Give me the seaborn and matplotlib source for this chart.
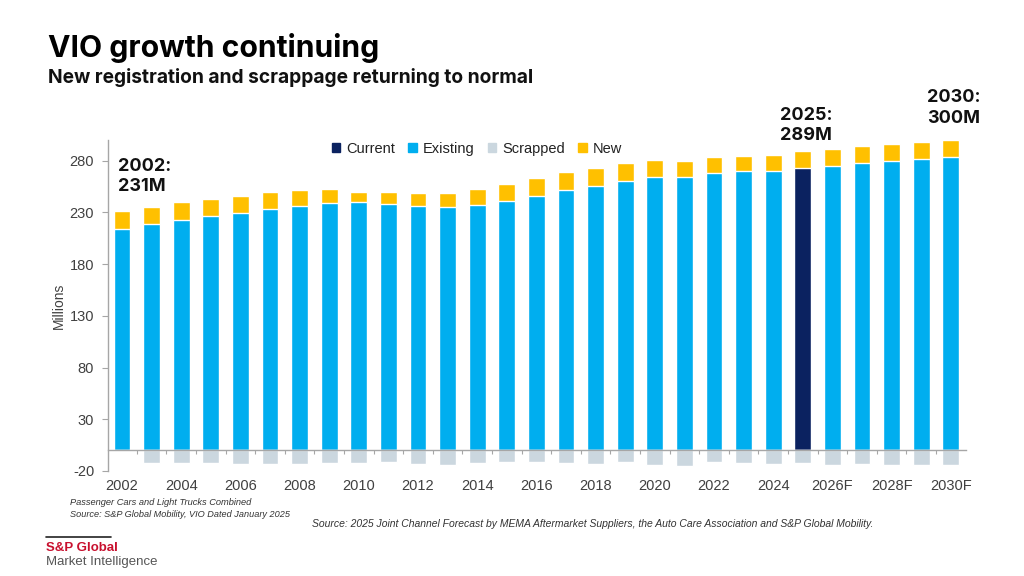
import matplotlib
matplotlib.use("Agg")
import matplotlib.pyplot as plt
from matplotlib.patches import Patch
import numpy as np
import pandas as pd
import seaborn as sns

# ---------------- data ----------------
years = [str(y) for y in range(2002, 2026)] + [f"{y}F" for y in range(2026, 2031)]
existing = [213.7, 218.8, 222.6, 226.5, 229.4, 233.2, 236.1, 238.7, 239.6, 238.0,
            236.4, 234.8, 237.0, 241.2, 246.3, 251.2, 255.3, 260.8, 264.0, 264.6,
            267.8, 270.4, 270.0, 273.3, 274.9, 277.4, 279.7, 281.6, 283.2]
new_reg = [17.3, 16.7, 17.0, 16.7, 16.9, 16.3, 15.4, 13.7, 9.9, 11.5,
           12.5, 14.1, 15.4, 16.0, 17.0, 17.6, 17.3, 17.0, 17.0, 14.8,
           15.4, 13.8, 15.8, 15.7, 16.4, 17.0, 16.6, 16.4, 16.8]
scrapped = [0.0, 11.8, 12.5, 12.5, 13.1, 13.1, 13.1, 12.5, 12.5, 10.9,
            13.1, 13.8, 11.8, 10.9, 10.9, 11.8, 13.1, 10.9, 13.8, 15.3,
            10.9, 12.5, 13.1, 12.5, 13.8, 13.1, 13.8, 13.8, 13.8]
kind = ["Current" if y == "2025" else "Existing" for y in years]

annotation_years = ["2002", "2025", "2030F"]
annotation_texts = ["2002:\n231M", "2025:\n289M", "2030:\n300M"]
yticks = [-20, 30, 80, 130, 180, 230, 280]

# ---------------- styling ----------------
C_CURRENT = "#0B2260"
C_EXIST = "#00AEEF"
C_SCRAP = "#CBD7DF"
C_NEW = "#FFC000"
C_AXIS = "#A6A6A6"
C_TEXT = "#404040"
ANN_GAP = {"2025": 7, "2030F": 13}   # vertical gap (data units) above the bar

sns.set_theme(style="white")
plt.rcParams["font.family"] = ["Liberation Sans", "DejaVu Sans"]

df = pd.DataFrame({
    "year": years,
    "existing": existing,
    "new": new_reg,
    "scrapped": scrapped,
    "kind": kind,
})
df["total"] = df["existing"] + df["new"]
df["scrap_neg"] = -df["scrapped"]

fig = plt.figure(figsize=(10.24, 5.76), dpi=100)
ax = fig.add_axes([0.1055, 0.1823, 0.8375, 0.5747])

W = 0.57
sns.barplot(data=df, x="year", y="total", color=C_NEW, width=W, saturation=1,
            errorbar=None, ax=ax)
sns.barplot(data=df, x="year", y="existing", hue="kind",
            palette={"Current": C_CURRENT, "Existing": C_EXIST},
            dodge=False, width=W, saturation=1, errorbar=None, legend=False, ax=ax)
sns.barplot(data=df, x="year", y="scrap_neg", color=C_SCRAP, width=W, saturation=1,
            errorbar=None, ax=ax)

n = len(years)
ax.set_xlim(-0.47, n - 0.5)
ax.set_ylim(-20, 300)
ax.set_yticks(yticks)
ax.set_yticklabels([str(v) for v in yticks])

for s in ["top", "right"]:
    ax.spines[s].set_visible(False)
ax.spines["bottom"].set_position(("data", 0))
ax.spines["bottom"].set_color(C_AXIS)
ax.spines["left"].set_color(C_AXIS)
ax.spines["bottom"].set_linewidth(1.0)
ax.spines["left"].set_linewidth(1.0)

ax.set_xticks(list(range(0, n, 2)))
ax.set_xticklabels([years[i] for i in range(0, n, 2)])
ax.set_xticks([i + 0.5 for i in range(n - 1)], minor=True)
ax.tick_params(axis="x", which="major", length=0, pad=21, labelsize=10.5, labelcolor=C_TEXT)
ax.tick_params(axis="x", which="minor", length=3, width=0.8, color=C_AXIS, direction="out", bottom=True)
ax.tick_params(axis="y", which="major", length=4, width=0.8, color=C_AXIS, left=True,
               labelsize=10.5, labelcolor=C_TEXT, pad=6)

ax.set_xlabel("")
ax.set_ylabel("Millions", fontsize=10, color=C_TEXT, labelpad=3)

# annotations
for yr, txt in zip(annotation_years, annotation_texts):
    i = years.index(yr)
    top = df.loc[i, "total"]
    if yr == "2002":
        ax.text(-0.15, 283, txt, ha="left", va="top", fontsize=13, fontweight="bold",
                family=["Inter", "DejaVu Sans"], color="#111111", linespacing=1.25)
    else:
        ax.text(i + 0.1, top + ANN_GAP[yr], txt, ha="center", va="bottom", fontsize=13,
                fontweight="bold", family=["Inter", "DejaVu Sans"], color="#111111",
                linespacing=1.25, clip_on=False, multialignment="left")

# legend
handles = [Patch(color=C_CURRENT, label="Current"),
           Patch(color=C_EXIST, label="Existing"),
           Patch(color=C_SCRAP, label="Scrapped"),
           Patch(color=C_NEW, label="New")]
leg = ax.legend(handles=handles, loc="center", bbox_to_anchor=(0.43, 0.973), ncol=4,
                frameon=False, fontsize=10.5, handlelength=0.6, handleheight=0.6,
                handletextpad=0.4, columnspacing=0.9, borderaxespad=0)
for t in leg.get_texts():
    t.set_color("#222222")

# titles
fig.text(48 / 1024, 1 - 57 / 576, "VIO growth continuing", fontsize=21.7, fontweight="bold",
         family=["Inter", "DejaVu Sans"], color="#000000", ha="left", va="baseline")
fig.text(48 / 1024, 1 - 83 / 576, "New registration and scrappage returning to normal",
         fontsize=13.8, fontweight="bold", family=["Inter", "DejaVu Sans"], color="#111111",
         ha="left", va="baseline")

# footnotes
fig.text(70 / 1024, 1 - 505 / 576, "Passenger Cars and Light Trucks Combined",
         fontsize=6.7, style="italic", color="#333333", ha="left", va="baseline")
fig.text(70 / 1024, 1 - 517 / 576, "Source: S&P Global Mobility, VIO Dated January 2025",
         fontsize=6.6, style="italic", color="#333333", ha="left", va="baseline")
fig.text(312 / 1024, 1 - 527 / 576,
         "Source: 2025 Joint Channel Forecast by MEMA Aftermarket Suppliers, the Auto Care Association and S&P Global Mobility.",
         fontsize=7.5, style="italic", color="#333333", ha="left", va="baseline")

# logo
fig.add_artist(plt.Line2D([46 / 1024, 111 / 1024], [1 - 537 / 576, 1 - 537 / 576],
                          color="#222222", lw=1.2))
fig.text(46 / 1024, 1 - 551 / 576, "S&P Global", fontsize=9.5, fontweight="bold",
         color="#C8102E", ha="left", va="baseline")
fig.text(46 / 1024, 1 - 565 / 576, "Market Intelligence", fontsize=9.5,
         color="#555555", ha="left", va="baseline")

fig.savefig("out.png", dpi=100)
